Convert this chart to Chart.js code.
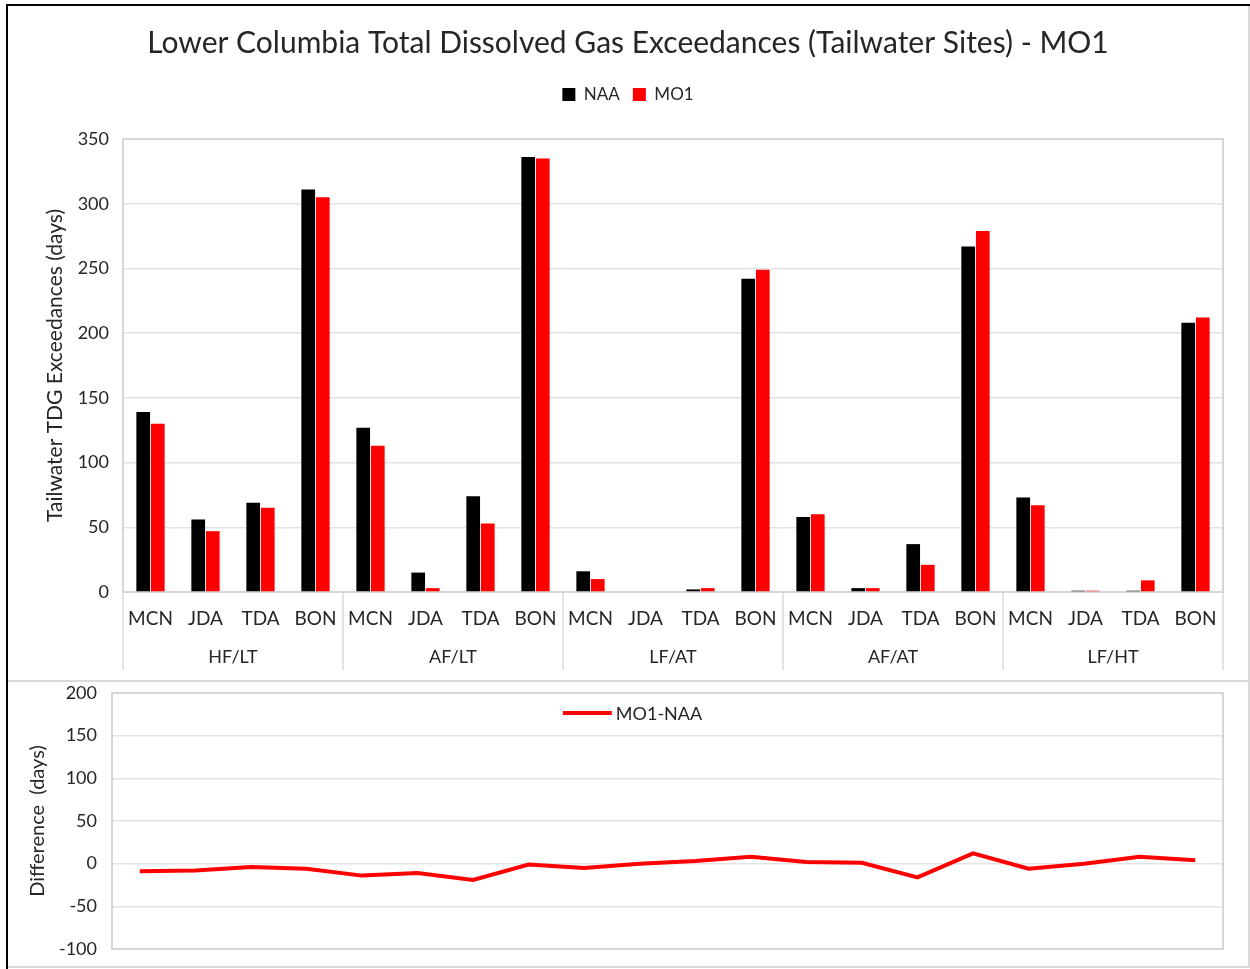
<!DOCTYPE html>
<html><head><meta charset="utf-8">
<script src="https://cdn.jsdelivr.net/npm/chart.js@4.4.1/dist/chart.umd.min.js"></script>
<style>
html,body{margin:0;padding:0;background:#fff;}
body{width:1250px;height:969px;position:relative;overflow:hidden;font-family:Lato,sans-serif;}
.blk{position:absolute;background:#000;}
.box{position:absolute;box-sizing:border-box;border-right:2px solid #dadada;border-bottom:2px solid #dadada;}
canvas{position:absolute;}
</style></head>
<body>
<div class="box" style="left:8px;top:6px;width:1242px;height:676px;"></div>
<div class="box" style="left:8px;top:682px;width:1242px;height:286px;"></div>
<div class="blk" style="left:6px;top:4px;width:1244px;height:2px;"></div>
<div class="blk" style="left:6px;top:4px;width:2px;height:965px;"></div>
<canvas id="c1" width="1240" height="675" style="left:8px;top:6px;"></canvas>
<canvas id="c2" width="1240" height="286" style="left:8px;top:681px;"></canvas>
<script>
const groups = ['HF/LT','AF/LT','LF/AT','AF/AT','LF/HT'];
const sites = ['MCN','JDA','TDA','BON'];
const naa = [139,56,69,311, 127,15,74,336, 16,0,2,242, 58,3,37,267, 73,1,1,208];
const mo1 = [130,47,65,305, 113,3,53,335, 10,0,3,249, 60,3,21,279, 67,1,9,212];
const diff = [-9,-8,-4,-6, -14,-11,-19,-1, -5,0,3,8, 2,1,-16,12, -6,0,8,4];
const yTicksTop = [0,350,50];
const yTicksBottom = [-100,200,50];

const categories = groups.flatMap(() => sites);
const FONT = 'Lato';
const TXT = '#262626';
const GRID = '#e3e3e3';

const framePlugin = {
  id:'frame',
  beforeDatasetsDraw(chart, args, opts){
    const {ctx, chartArea:a} = chart;
    ctx.save();
    ctx.strokeStyle = '#d6d6d6';
    ctx.lineWidth = 2;
    ctx.strokeRect(a.left, a.top, a.right-a.left, a.bottom-a.top);
    if (opts.separators){
      const x = chart.scales.x;
      const step = x.getPixelForValue(1) - x.getPixelForValue(0);
      ctx.lineWidth = 1.5;
      ctx.strokeStyle = '#d9d9d9';
      for (let g=0; g<=groups.length; g++){
        const px = g===groups.length ? x.getPixelForValue(groups.length*sites.length-1)+step/2 : x.getPixelForValue(g*sites.length)-step/2;
        ctx.beginPath(); ctx.moveTo(px, a.bottom); ctx.lineTo(px, opts.sepBottom); ctx.stroke();
      }
    }
    ctx.restore();
  }
};

const legendSpacePlugin = {
  id:'legendSpace',
  beforeInit(chart){
    const lg = chart.legend;
    if (!lg) return;
    const orig = lg.fit;
    lg.fit = function(){ orig.call(this); this.height += 26; };
  }
};

const spacer = (w) => ({position:'right', display:true, ticks:{display:false}, grid:{display:false, drawTicks:false}, border:{display:false},
  afterFit(s){ s.width = w; s.paddingTop = 0; s.paddingBottom = 0; }});

new Chart(document.getElementById('c1'), {
  type:'bar',
  data:{ labels:categories, datasets:[
    {label:'NAA', data:naa, backgroundColor:'#000000', categoryPercentage:0.53, barPercentage:0.94},
    {label:'MO1', data:mo1, backgroundColor:'#ff0000', categoryPercentage:0.53, barPercentage:0.94}
  ]},
  options:{
    responsive:false, animation:false,
    layout:{padding:{left:0,right:0,top:0,bottom:13}},
    plugins:{
      frame:{separators:true, sepBottom:664},
      title:{display:true, text:'Lower Columbia Total Dissolved Gas Exceedances (Tailwater Sites) - MO1',
        font:{family:FONT,size:30,weight:'normal'}, color:TXT, padding:{top:19,bottom:12}},
      legend:{position:'top', labels:{boxWidth:13, boxHeight:13, font:{family:FONT,size:17}, color:TXT, padding:13}},
      tooltip:{enabled:false}
    },
    scales:{
      y:{min:yTicksTop[0], max:yTicksTop[1],
        ticks:{stepSize:yTicksTop[2], font:{family:FONT,size:18}, color:TXT, padding:14},
        grid:{color:GRID, lineWidth:1.5, drawTicks:false}, border:{display:false},
        title:{display:true, text:'Tailwater TDG Exceedances (days)', font:{family:FONT,size:21}, color:TXT, padding:{top:35,bottom:0}},
        afterFit(s){ s.width = 115; }
      },
      yr: spacer(25),
      x:{ticks:{font:{family:FONT,size:19}, color:TXT, padding:7, autoSkip:false, maxRotation:0},
        grid:{display:false}, border:{display:false},
        afterFit(s){ s.height = 38; }},
      x2:{type:'category', labels:groups, position:'bottom', offset:true,
        ticks:{font:{family:FONT,size:18}, color:TXT, padding:8},
        grid:{display:false}, border:{display:false},
        afterFit(s){ s.height = 38; }}
    }
  },
  plugins:[framePlugin, legendSpacePlugin]
});

const lineLegendPlugin = {
  id:'lineLegend',
  afterDraw(chart){
    const {ctx, chartArea:a} = chart;
    const ds = chart.data.datasets[0];
    ctx.save();
    ctx.font = '18px ' + FONT;
    const tw = ctx.measureText(ds.label).width;
    const lw = 49, gap = 4;
    const total = lw + gap + tw;
    const cx = (a.left + a.right)/2 - 35;
    const x0 = cx - total/2, y = a.top + 20;
    ctx.strokeStyle = ds.borderColor; ctx.lineWidth = 4;
    ctx.beginPath(); ctx.moveTo(x0, y); ctx.lineTo(x0+lw, y); ctx.stroke();
    ctx.fillStyle = TXT; ctx.textBaseline = 'middle'; ctx.textAlign = 'left';
    ctx.fillText(ds.label, x0+lw+gap, y+1);
    ctx.restore();
  }
};

new Chart(document.getElementById('c2'), {
  type:'line',
  data:{ labels:categories, datasets:[
    {label:'MO1-NAA', data:diff, borderColor:'#ff0000', backgroundColor:'#ff0000', borderWidth:4, pointRadius:0, tension:0, fill:false}
  ]},
  options:{
    responsive:false, animation:false,
    layout:{padding:{left:0,right:25,top:12,bottom:18}},
    plugins:{ legend:{display:false}, title:{display:false}, tooltip:{enabled:false}, frame:{separators:false} },
    scales:{
      y:{min:yTicksBottom[0], max:yTicksBottom[1],
        ticks:{stepSize:yTicksBottom[2], font:{family:FONT,size:18}, color:TXT, padding:15},
        grid:{color:GRID, lineWidth:1.5, drawTicks:false}, border:{display:false},
        title:{display:true, text:'Difference  (days)', font:{family:FONT,size:20}, color:TXT, padding:{top:18,bottom:0}},
        afterFit(s){ s.width = 104; s.paddingTop = 0; s.paddingBottom = 0; }
      },
      x:{offset:true, ticks:{display:false}, grid:{display:false, drawTicks:false}, border:{display:false},
        afterFit(s){ s.height = 0; s.paddingLeft = 0; s.paddingRight = 0; }}
    }
  },
  plugins:[framePlugin, lineLegendPlugin]
});
</script>
</body></html>
